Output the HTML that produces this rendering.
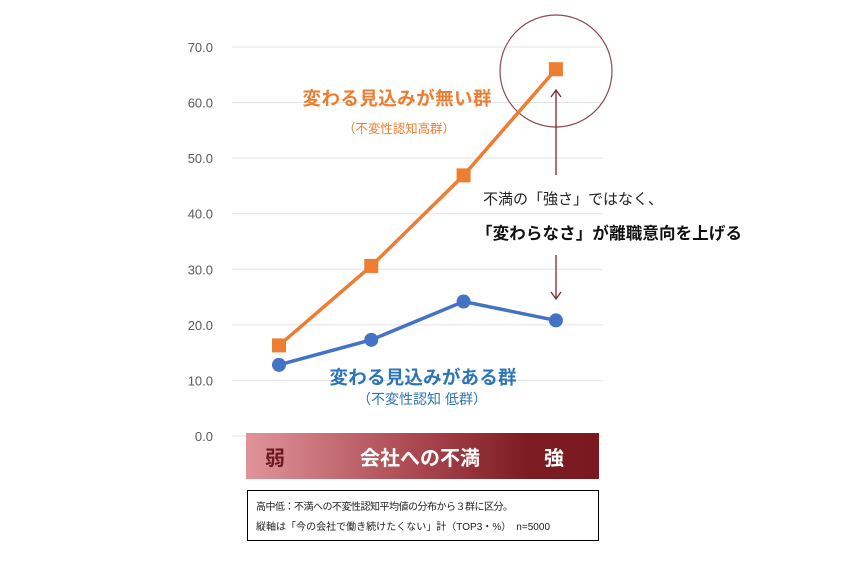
<!DOCTYPE html>
<html><head><meta charset="utf-8"><style>
body{margin:0;background:#fff;}
svg text{font-family:"Liberation Sans","Noto Sans CJK JP",sans-serif;}
</style></head><body>
<svg width="846" height="560" viewBox="0 0 846 560" xmlns="http://www.w3.org/2000/svg">
<defs>
<linearGradient id="g" x1="0" x2="1" y1="0" y2="0">
<stop offset="0" stop-color="#e0949a"/><stop offset="0.5" stop-color="#a8454e"/><stop offset="0.8" stop-color="#7d1b22"/><stop offset="1" stop-color="#7a1a20"/>
</linearGradient>
</defs>
<g id="grid"></g>
<g id="yticks"></g>
<rect x="246" y="433" width="353" height="46" fill="url(#g)"/>
<text x="265" y="465" font-size="20" font-weight="bold" fill="#6a1a1f">弱</text>
<text x="360" y="465" font-size="20" font-weight="bold" fill="#fff" textLength="120">会社への不満</text>
<text x="544" y="465" font-size="20" font-weight="bold" fill="#fff">強</text>
<rect x="247.5" y="490.5" width="351" height="50" fill="#fff" stroke="#000"/>
<text x="256" y="510" font-size="10" fill="#222" textLength="257">高中低：不満への不変性認知平均値の分布から３群に区分。</text>
<text x="256" y="530" font-size="10" fill="#222" textLength="294">縦軸は「今の会社で働き続けたくない」計（TOP3・%）　n=5000</text>
<circle cx="556" cy="71" r="56" fill="none" stroke="#8a4a52" stroke-width="1.2"/>
<g stroke="#7a2a33" stroke-width="1.3" fill="none">
<line x1="556" y1="90" x2="556" y2="175"/><polyline points="551,97 556,90 561,97"/>
<line x1="556" y1="255" x2="556" y2="299"/><polyline points="551,292 556,299 561,292"/>
</g>
<g id="series"></g>
<text x="397" y="105" font-size="18.5" font-weight="bold" fill="#ed7d31" text-anchor="middle" textLength="189">変わる見込みが無い群</text>
<text x="399" y="133" font-size="12.5" fill="#ed7d31" text-anchor="middle" textLength="112">（不変性認知高群）</text>
<text x="423" y="384" font-size="18.5" font-weight="bold" fill="#2e75b6" text-anchor="middle" textLength="187">変わる見込みがある群</text>
<text x="422" y="404" font-size="14" fill="#2e75b6" text-anchor="middle" textLength="130">（不変性認知 低群）</text>
<text x="483" y="204" font-size="15" fill="#222">不満の「強さ」ではなく、</text>
<text x="476" y="239" font-size="16.5" font-weight="bold" fill="#111" textLength="266">「変わらなさ」が離職意向を上げる</text>
</svg>
<script>
const categories=["弱","中弱","中強","強"];
const orangeValues=[16.3,30.6,46.9,66.0];
const blueValues=[12.8,17.3,24.2,20.8];
const yTicks=[0,10,20,30,40,50,60,70];
const NS="http://www.w3.org/2000/svg";
function y(v){return 436-v*(436-47)/70;}
function x(i){return 279+i*92.3;}
const grid=document.getElementById('grid'),yt=document.getElementById('yticks'),ser=document.getElementById('series');
yTicks.forEach(t=>{
 const l=document.createElementNS(NS,'line');
 l.setAttribute('x1',232);l.setAttribute('x2',603);l.setAttribute('y1',y(t));l.setAttribute('y2',y(t));
 l.setAttribute('stroke','#e3e3e3');l.setAttribute('stroke-width','1');
 
 
 grid.appendChild(l);
 const tx=document.createElementNS(NS,'text');
 tx.setAttribute('x',213);tx.setAttribute('y',y(t)+5);tx.setAttribute('text-anchor','end');
 tx.setAttribute('font-size','13');tx.setAttribute('fill','#595959');
 tx.textContent=t.toFixed(1);
 
 
 yt.appendChild(tx);
});
function line(vals,color,name){
 const p=document.createElementNS(NS,'polyline');
 p.setAttribute('points',vals.map((v,i)=>x(i)+','+y(v)).join(' '));
 p.setAttribute('fill','none');p.setAttribute('stroke',color);p.setAttribute('stroke-width','3.5');
 
 
 ser.appendChild(p);
}
line(orangeValues,'#ed7d31','orange-line');
line(blueValues,'#4472c4','blue-line');
orangeValues.forEach((v,i)=>{
 const r=document.createElementNS(NS,'rect');
 r.setAttribute('x',x(i)-7);r.setAttribute('y',y(v)-7);r.setAttribute('width',14);r.setAttribute('height',14);
 r.setAttribute('fill','#ed7d31');
 
 
 ser.appendChild(r);
});
blueValues.forEach((v,i)=>{
 const c=document.createElementNS(NS,'circle');
 c.setAttribute('cx',x(i));c.setAttribute('cy',y(v));c.setAttribute('r',7);
 c.setAttribute('fill','#4472c4');
 
 
 ser.appendChild(c);
});
</script>
</body></html>
